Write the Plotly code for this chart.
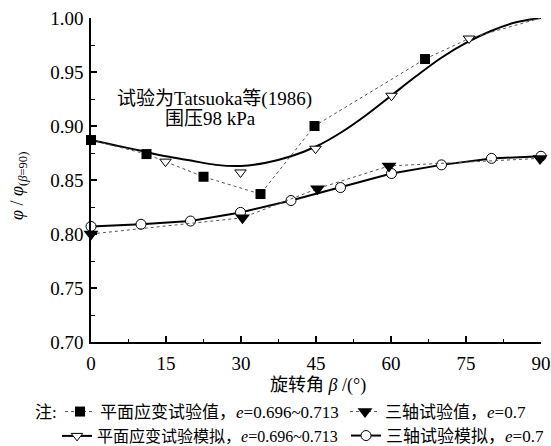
import plotly.graph_objects as go

# Plane-strain test values
ps_test_x = [0, 11.1, 22.5, 33.9, 44.7, 66.8]
ps_test_y = [0.887, 0.874, 0.853, 0.837, 0.900, 0.962]
# dotted continuation
ps_tail_x = [66.8, 75.6, 90]
ps_tail_y = [0.962, 0.981, 1.000]

# Plane-strain simulation points
ps_sim_x = [14.9, 29.9, 44.9, 60.1, 75.6]
ps_sim_y = [0.867, 0.857, 0.879, 0.928, 0.981]

# Plane-strain simulation smooth curve
ps_curve_x = [0, 5, 10, 15, 20, 25, 30, 35, 40, 45, 50, 55, 60, 65, 70, 75, 80, 85, 90]
ps_curve_y = [0.887, 0.882, 0.877, 0.872, 0.868, 0.864, 0.863, 0.866, 0.872, 0.881,
              0.894, 0.910, 0.928, 0.946, 0.963, 0.977, 0.988, 0.996, 1.000]

# Triaxial test values
tx_test_x = [0, 30.3, 45.3, 59.6, 89.8]
tx_test_y = [0.800, 0.815, 0.842, 0.863, 0.870]

# Triaxial simulation
tx_sim_x = [0, 10, 19.9, 29.9, 40, 49.9, 60.1, 70.1, 80.1, 90]
tx_sim_y = [0.807, 0.809, 0.812, 0.820, 0.831, 0.843, 0.856, 0.864, 0.870, 0.872]

x_ticks = [0, 15, 30, 45, 60, 75, 90]
y_ticks = [0.70, 0.75, 0.80, 0.85, 0.90, 0.95, 1.00]

FONT = "'Liberation Serif', 'Noto Sans CJK SC', serif"
DOT = dict(color="#555555", width=1, dash="dot")
W_PX, H_PX = 551, 446
ML, MR, MT, MB = 91, 10, 18, 104
plot_w = W_PX - ML - MR
plot_h = H_PX - MT - MB

fig = go.Figure()

fig.add_trace(go.Scatter(x=ps_curve_x, y=ps_curve_y, mode="lines",
                         line=dict(color="black", width=2, shape="spline"),
                         showlegend=False, cliponaxis=False))
fig.add_trace(go.Scatter(x=ps_tail_x, y=ps_tail_y, mode="lines", line=DOT,
                         showlegend=False, cliponaxis=False))
fig.add_trace(go.Scatter(x=tx_sim_x, y=tx_sim_y, mode="lines+markers",
                         line=dict(color="black", width=2),
                         marker=dict(symbol="circle", size=10, color="white",
                                     line=dict(color="black", width=1)),
                         name="三轴试验模拟，<i>e</i>=0.7", legend="legend4",
                         cliponaxis=False))
fig.add_trace(go.Scatter(x=ps_test_x, y=ps_test_y, mode="lines+markers", line=DOT,
                         marker=dict(symbol="square", size=10, color="black"),
                         name="平面应变试验值，<i>e</i>=0.696~0.713", legend="legend",
                         cliponaxis=False))
fig.add_trace(go.Scatter(x=ps_sim_x, y=ps_sim_y, mode="markers",
                         marker=dict(symbol="triangle-down", size=10, color="white",
                                     line=dict(color="black", width=1)),
                         showlegend=False, cliponaxis=False))
fig.add_trace(go.Scatter(x=[None], y=[None], mode="lines+markers",
                         line=dict(color="black", width=2),
                         marker=dict(symbol="triangle-down", size=10, color="white",
                                     line=dict(color="black", width=1)),
                         name="平面应变试验模拟，<i>e</i>=0.696~0.713", legend="legend3"))
fig.add_trace(go.Scatter(x=tx_test_x, y=tx_test_y, mode="lines+markers", line=DOT,
                         marker=dict(symbol="triangle-down", size=13, color="black"),
                         name="三轴试验值，<i>e</i>=0.7", legend="legend2",
                         cliponaxis=False))

axis_common = dict(showline=True, linecolor="black", linewidth=1.5, ticks="inside",
                   ticklen=6, tickwidth=1.5, tickcolor="black", showgrid=False,
                   zeroline=False, mirror=False, automargin=False,
                   ticklabeloverflow="allow",
                   tickfont=dict(family=FONT, size=19, color="black"))

fig.update_xaxes(range=[0, 90], tickvals=x_ticks, ticktext=[str(v) for v in x_ticks],
                 minor=dict(ticks="inside", ticklen=3, tickwidth=1, tickcolor="black",
                            dtick=7.5, tick0=0),
                 ticklabelstandoff=3, **axis_common)
fig.update_yaxes(range=[0.70, 1.00], tickvals=y_ticks, ticktext=[f"{v:.2f}" for v in y_ticks],
                 minor=dict(ticks="inside", ticklen=4, tickwidth=1, tickcolor="black",
                            dtick=0.025, tick0=0.70),
                 ticklabelstandoff=2, **axis_common)


def leg(page_text_x, page_y, size=17):
    return dict(orientation="h", xanchor="left", yanchor="middle",
                xref="container", yref="container",
                x=(page_text_x - 40) / W_PX, y=1 - page_y / H_PX,
                font=dict(family=FONT, size=size, color="black"),
                bgcolor="rgba(0,0,0,0)", itemwidth=30, borderwidth=0)


def ann(text, page_x, page_y, size, **kw):
    d = dict(text=text, x=(page_x - ML) / plot_w, y=1 - (page_y - MT) / plot_h,
             xref="paper", yref="paper", showarrow=False, align="center",
             xanchor="center", yanchor="middle",
             font=dict(family=FONT, size=size, color="black"))
    d.update(kw)
    return d


fig.update_layout(
    template="none",
    width=W_PX, height=H_PX,
    margin=dict(l=ML, r=MR, t=MT, b=MB),
    paper_bgcolor="white", plot_bgcolor="white",
    font=dict(family=FONT, size=17, color="black"),
    legend=leg(100, 412),
    legend2=leg(385, 412),
    legend3=leg(97, 436, 16),
    legend4=leg(386, 436),
    annotations=[
        ann("试验为Tatsuoka等(1986)", 214, 99, 19),
        ann("围压98 kPa", 210, 118, 19),
        ann("旋转角 <i>β</i> /(°)", 318, 385, 18),
        ann("<i>φ</i> / <i>φ</i><sub>(<i>β</i>=90)</sub>", 18, 186, 18, textangle=-90),
        ann("注:", 46, 412, 17),
    ],
)

fig.write_html("out.html", config={"displayModeBar": False},
               post_script="document.body.style.margin='0';document.body.style.overflow='hidden';")
